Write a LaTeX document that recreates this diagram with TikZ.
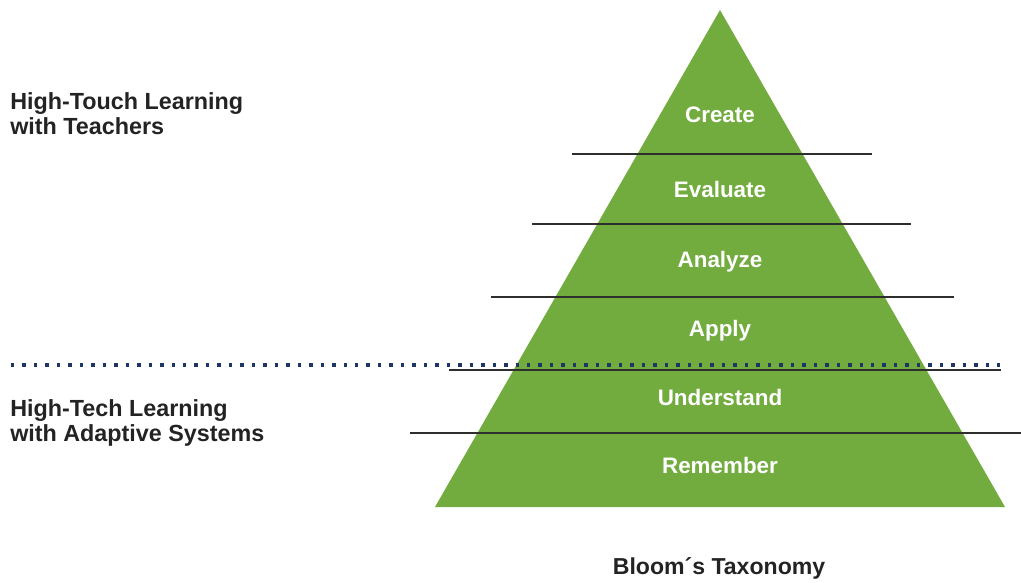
\documentclass[tikz,border=0pt]{standalone}
\usepackage{fontspec}
\setmainfont{Liberation Sans}
\definecolor{pyrgreen}{HTML}{72AC3F}
\definecolor{inkdark}{HTML}{232323}
\definecolor{dotblue}{HTML}{1E3566}
\definecolor{rulegray}{HTML}{2E2E2E}
\begin{document}
\begin{tikzpicture}[x=0.75pt,y=-0.75pt,
  sidelabel/.style={anchor=west,align=left,text=inkdark,font=\fontsize{17.5}{18.8}\selectfont\bfseries,inner sep=0pt},
  levellabel/.style={text=white,font=\fontsize{16.8}{18}\selectfont\bfseries,inner sep=0pt},
  levelrule/.style={draw=rulegray,line width=1.5pt},
  splitrule/.style={draw=dotblue,line width=2.6pt,dash pattern=on 2.6pt off 6pt}]
\useasboundingbox (0,0) rectangle (1021,582);
% pyramid body
\fill[pyrgreen] (720,10) -- (1005,507) -- (435,507) -- cycle;
% level separators
\draw[levelrule] (572,154) -- (872,154);
\draw[levelrule] (532,224) -- (911,224);
\draw[levelrule] (491,297) -- (954,297);
\draw[levelrule] (449,369.5) -- (1001,369.5);
\draw[levelrule] (410,433) -- (1021,433);
% divide between teacher-led and adaptive learning
\draw[splitrule] (11,365) -- (1000,365);
% levels
\node[levellabel] (create) at (720,115) {Create};
\node[levellabel] (evaluate) at (720,189) {Evaluate};
\node[levellabel] (analyze) at (720,262) {Analyze};
\node[levellabel] (apply) at (720,331) {Apply};
\node[levellabel] (understand) at (720,397) {Understand};
\node[levellabel] (remember) at (720,465) {Remember};
% side captions
\node[sidelabel] (touch) at (10,114) {High-Touch Learning\\with Teachers};
\node[sidelabel] (tech) at (10,423) {High-Tech Learning\\with Adaptive Systems};
\node[text=inkdark,font=\fontsize{17.3}{18}\selectfont\bfseries,inner sep=0pt] (title) at (719,568) {Bloom´s Taxonomy};
\end{tikzpicture}
\end{document}
